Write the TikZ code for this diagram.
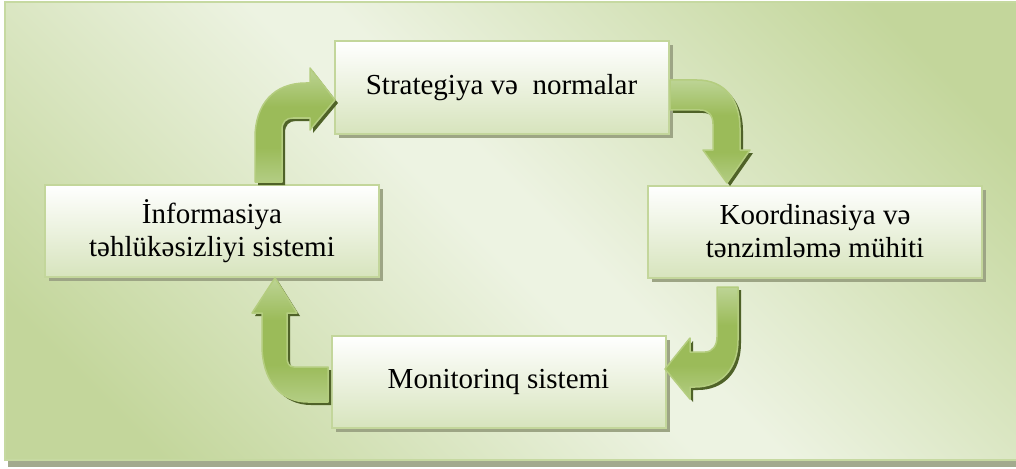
\documentclass[tikz,border=0pt]{standalone}
\usepackage{fontspec}
\setmainfont{Liberation Serif}
\usetikzlibrary{shadows}

\definecolor{bgdark}{HTML}{C3D69B}
\definecolor{bglight}{HTML}{EDF3E2}
\definecolor{frameline}{HTML}{C6D9A1}
\definecolor{frameshadow}{HTML}{A2AA8E}
\definecolor{boxline}{HTML}{C3D69B}
\definecolor{boxbottom}{HTML}{D7E4BD}
\definecolor{boxshadow}{HTML}{9DA585}
\definecolor{arrowlight}{HTML}{BDD495}
\definecolor{arrowlow}{HTML}{B3CD84}
\definecolor{arrowmid}{HTML}{9BBB59}
\definecolor{arrowline}{HTML}{B4CD7F}
\definecolor{arrowshade}{HTML}{4F6228}

% diagonal backdrop: light along one diagonal, darker towards two corners
\pgfdeclareverticalshading{bgshade}{100bp}{%
  color(0bp)=(bgdark); color(22bp)=(bgdark); color(48bp)=(bglight);
  color(52bp)=(bglight); color(78bp)=(bgdark); color(100bp)=(bgdark)}

% block arrow body: light top, strong green middle, lighter foot
\pgfdeclareverticalshading{arrowshading}{100bp}{%
  color(0bp)=(arrowlow); color(25bp)=(arrowlow); color(40bp)=(arrowmid);
  color(58bp)=(arrowmid); color(75bp)=(arrowlight); color(100bp)=(arrowlight)}

\tikzset{
  box/.style={draw=boxline, line width=2pt, top color=white, bottom color=boxbottom,
    minimum width=334pt, minimum height=92pt, align=center,
    font=\fontsize{29}{33}\selectfont,
    general shadow={fill=boxshadow, shadow xshift=4pt, shadow yshift=-4pt}},
  arrbody/.style={draw=arrowline, line width=1.5pt, line join=round,
    shading=arrowshading},
  arrshadow/.style={fill=arrowshade},
}

% a bent block arrow: dark offset copy first, then the shaded body
\newcommand\greenarrow[1]{%
  \fill[arrshadow, shift={(3,3)}] #1;
  \shadedraw[arrbody] #1;
}

\begin{document}
\begin{tikzpicture}[x=1pt, y=-1pt]
  \useasboundingbox (0,0) rectangle (1016,468);
  \fill[white] (0,0) rectangle (1016,468);

  % backdrop panel with its shadow
  \fill[frameshadow] (8,5) rectangle (1030,467);
  \shade[shading=bgshade, shading angle=-45] (5,2) rectangle (1030,460);
  \draw[frameline, line width=2pt] (1030,2) -- (5,2) -- (5,460) -- (1030,460);

  % the four stages
  \node[box] (S) at (501.5,87.5) {Strategiya v\symbol{"0259}~ normalar};
  \node[box] (K) at (815,231.5) {Koordinasiya v\symbol{"0259}\\t\symbol{"0259}nziml\symbol{"0259}m\symbol{"0259} m\"uhiti};
  \node[box] (I) at (212,231) {\symbol{"0130}nformasiya\\t\symbol{"0259}hl\"uk\symbol{"0259}sizliyi sistemi};
  \node[box] (M) at (498.5,382) {Monitorinq sistemi};

  % I -> S
  \greenarrow{(255,182) -- (255,138) .. controls (255,104) and (274,83) .. (306,83)
    -- (310,83) -- (310,68) -- (335,100) -- (310,130) -- (310,118) -- (293,118)
    .. controls (286,118) and (282,122) .. (282,130) -- (282,182) -- cycle}
  % S -> K
  \greenarrow{(670,80) -- (697,80) .. controls (725,80) and (740,100) .. (740,128)
    -- (740,150) -- (750,150) -- (727,183) -- (703,150) -- (713,150) -- (713,124)
    .. controls (713,115) and (708,110) .. (700,110) -- (670,110) -- cycle}
  % K -> M
  \greenarrow{(717,287) -- (738,287) -- (738,340) .. controls (738,370) and (720,387) .. (695,387)
    -- (690,387) -- (690,399) -- (665,369) -- (690,338) -- (690,352) -- (705,352)
    .. controls (713,352) and (717,345) .. (717,337) -- cycle}
  % M -> I
  \greenarrow{(328,367) -- (294,367) .. controls (289,367) and (287,363) .. (287,357)
    -- (287,313) -- (297,313) -- (275,278) -- (252,313) -- (262,313) -- (262,345)
    .. controls (262,380) and (280,402) .. (308,402) -- (328,402) -- cycle}
\end{tikzpicture}
\end{document}
